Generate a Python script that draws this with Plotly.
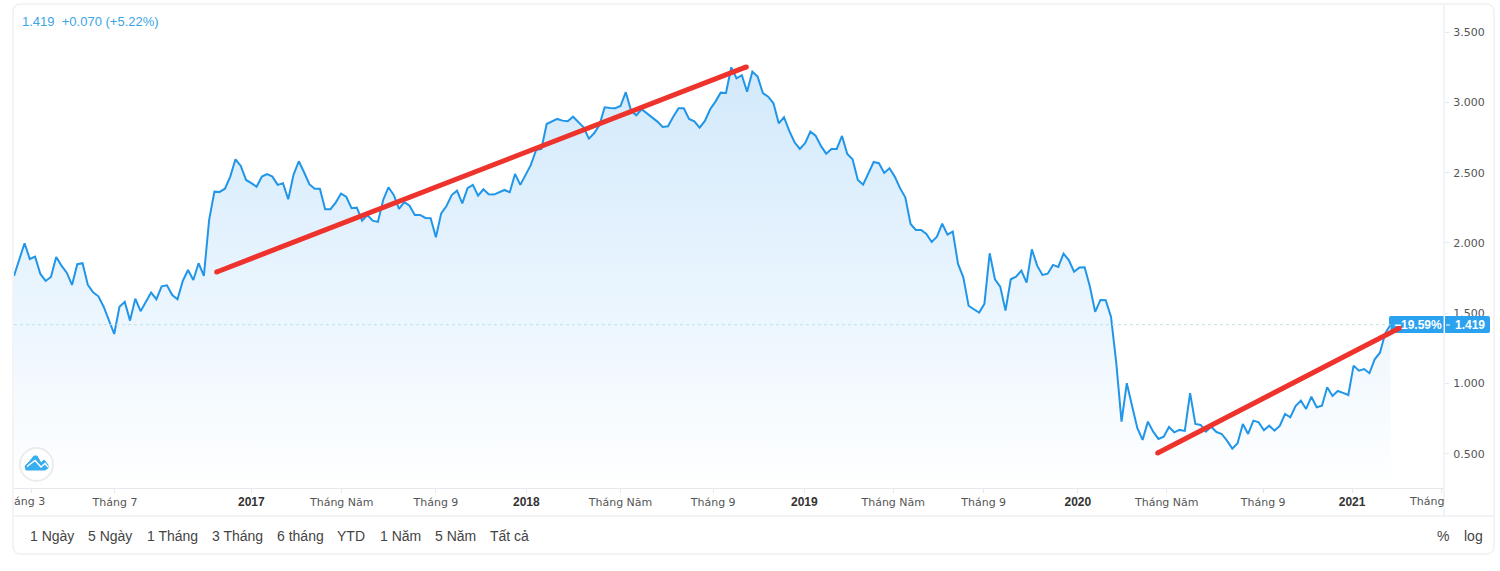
import pandas as pd
import plotly.graph_objects as go

W, H = 1500, 571
L, R, T, B = 14, 1444, 5, 488

# Weekly closing prices
first_week = "2016-02-21"
closes = [
    1.766, 1.879, 1.998, 1.886, 1.903, 1.780, 1.730, 1.758, 1.901, 1.839, 1.789, 1.702,
    1.849, 1.856, 1.702, 1.650, 1.621, 1.547, 1.453, 1.353, 1.547, 1.581, 1.448, 1.604,
    1.515, 1.583, 1.647, 1.600, 1.692, 1.699, 1.630, 1.600, 1.730, 1.808, 1.737, 1.856,
    1.766, 2.164, 2.365, 2.363, 2.386, 2.472, 2.595, 2.548, 2.448, 2.425, 2.400, 2.472,
    2.489, 2.472, 2.413, 2.425, 2.311, 2.484, 2.581, 2.503, 2.418, 2.386, 2.386, 2.240,
    2.240, 2.287, 2.351, 2.329, 2.247, 2.251, 2.159, 2.199, 2.159, 2.150, 2.306, 2.396,
    2.341, 2.242, 2.290, 2.265, 2.199, 2.199, 2.178, 2.176, 2.041, 2.211, 2.263, 2.341,
    2.372, 2.282, 2.389, 2.413, 2.337, 2.382, 2.346, 2.344, 2.363, 2.377, 2.361, 2.491,
    2.413, 2.484, 2.555, 2.661, 2.669, 2.846, 2.863, 2.882, 2.870, 2.865, 2.898, 2.858,
    2.823, 2.742, 2.780, 2.839, 2.965, 2.960, 2.958, 2.974, 3.072, 2.941, 2.908, 2.951,
    2.922, 2.898, 2.863, 2.825, 2.830, 2.898, 2.958, 2.958, 2.882, 2.865, 2.820, 2.868,
    2.951, 3.005, 3.069, 3.067, 3.249, 3.171, 3.193, 3.076, 3.218, 3.183, 3.065, 3.040,
    2.993, 2.851, 2.894, 2.797, 2.716, 2.669, 2.709, 2.792, 2.763, 2.690, 2.635, 2.669,
    2.669, 2.761, 2.633, 2.595, 2.448, 2.415, 2.496, 2.576, 2.567, 2.498, 2.531, 2.472,
    2.390, 2.325, 2.135, 2.093, 2.093, 2.064, 2.007, 2.045, 2.137, 2.059, 2.081, 1.851,
    1.756, 1.554, 1.529, 1.505, 1.567, 1.927, 1.742, 1.690, 1.519, 1.742, 1.761, 1.803,
    1.718, 1.955, 1.839, 1.773, 1.782, 1.844, 1.830, 1.924, 1.879, 1.796, 1.825, 1.827,
    1.690, 1.510, 1.595, 1.593, 1.476, 1.147, 0.730, 1.003, 0.841, 0.683, 0.600, 0.730,
    0.659, 0.607, 0.623, 0.692, 0.654, 0.671, 0.664, 0.932, 0.713, 0.706, 0.659, 0.694,
    0.656, 0.642, 0.595, 0.538, 0.576, 0.713, 0.642, 0.737, 0.725, 0.669, 0.701, 0.666,
    0.699, 0.784, 0.761, 0.841, 0.879, 0.820, 0.907, 0.832, 0.843, 0.974, 0.912, 0.948,
    0.934, 0.919, 1.128, 1.092, 1.104, 1.074, 1.173, 1.220, 1.358, 1.419,
]
last_price = 1.419

# Hand-drawn trend segments
trend_up_dates = ["2016-11-16", "2018-10-20"]
trend_up_values = [1.794, 3.252]
trend_rebound_dates = ["2020-04-18", "2021-03-05"]
trend_rebound_values = [0.507, 1.396]

YEAR = '<span style="font-family:Liberation Sans;font-size:12px;fill:#333333"><b>{}</b></span>'

# Axis ticks
month_tick_dates = [
    "2016-03-15", "2016-07-04", "2017-01-01", "2017-05-01", "2017-09-03", "2018-01-01",
    "2018-05-06", "2018-09-06", "2019-01-05", "2019-05-03", "2019-08-31", "2020-01-03",
    "2020-04-30", "2020-09-05", "2021-01-01", "2021-04-30",
]
month_tick_labels = [
    "", "Tháng 7", YEAR.format(2017), "Tháng Năm", "Tháng 9", YEAR.format(2018),
    "Tháng Năm", "Tháng 9", YEAR.format(2019), "Tháng Năm", "Tháng 9", YEAR.format(2020),
    "Tháng Năm", "Tháng 9", YEAR.format(2021), "",
]
price_ticks = [0.5, 1.0, 1.5, 2.0, 2.5, 3.0, 3.5]
price_tick_labels = ["0.500", "1.000", "1.500", "2.000", "2.500", "3.000", "3.500"]

range_buttons = [
    ("1 Ngày", 28), ("5 Ngày", 86), ("1 Tháng", 145), ("3 Tháng", 210), ("6 tháng", 275),
    ("YTD", 335), ("1 Năm", 378), ("5 Năm", 433), ("Tất cả", 488),
]

BLUE = "#2196e8"
LABEL_BLUE = "#2ba2f0"
RED = "#ee332c"
GRID = "#e6e8ee"
TICK_FONT = "DejaVu Sans"
UI_FONT = "Liberation Sans"

dates = pd.date_range(first_week, periods=len(closes), freq="7D")


def px(x):
    return (x - L) / (R - L)


def py(y):
    return (B - y) / (B - T)


def pixel_rect(x0, y0, x1, y1, radius):
    """Rounded rectangle as an SVG path in paper coordinates."""
    r_x, r_y = radius / (R - L), radius / (B - T)
    a, b, c, d = px(x0), px(x1), py(y0), py(y1)
    return (
        f"M {a + r_x} {c} L {b - r_x} {c} Q {b} {c} {b} {c - r_y} "
        f"L {b} {d + r_y} Q {b} {d} {b - r_x} {d} "
        f"L {a + r_x} {d} Q {a} {d} {a} {d + r_y} "
        f"L {a} {c - r_y} Q {a} {c} {a + r_x} {c} Z"
    )


def pixel_path(points, close=False):
    """Polyline through pixel points as an SVG path in paper coordinates."""
    head, *rest = points
    path = f"M {px(head[0])} {py(head[1])} "
    path += " ".join(f"L {px(x)} {py(y)}" for x, y in rest)
    return path + (" Z" if close else "")


def paper_line(x0, y0, x1, y1, color=GRID, width=1, dash="solid", layer="above"):
    return dict(
        type="line", xref="paper", yref="paper", x0=px(x0), x1=px(x1), y0=py(y0), y1=py(y1),
        line=dict(color=color, width=width, dash=dash), layer=layer,
    )


def text_at(text, x, y, size, color, font=UI_FONT, anchor="left"):
    return dict(
        text=text, xref="paper", yref="paper", x=px(x), y=py(y), xanchor=anchor, yanchor="middle",
        showarrow=False, font=dict(family=font, size=size, color=color),
    )


fig = go.Figure()

fig.add_trace(go.Scatter(
    x=dates, y=closes, mode="lines", line=dict(color=BLUE, width=2), fill="tozeroy",
    fillgradient=dict(
        type="vertical",
        colorscale=[[0, "#ffffff"], [0.45, "#eaf5fe"], [1, "#d2e9fb"]],
        start=0.25, stop=3.25,
    ),
    hoverinfo="skip", showlegend=False,
))
for seg_x, seg_y in ((trend_up_dates, trend_up_values), (trend_rebound_dates, trend_rebound_values)):
    fig.add_trace(go.Scatter(
        x=seg_x, y=seg_y, mode="lines+markers", line=dict(color=RED, width=5),
        marker=dict(color=RED, size=5), cliponaxis=False, hoverinfo="skip", showlegend=False,
    ))

cloud = [(26, 470), (45, 470), (48, 468), (48, 465), (44, 460), (41, 463), (37, 456), (34, 456),
         (29, 462), (25, 466)]
ridge = [(27, 466.5), (35, 460.5), (41, 467), (45, 463.5), (48, 467)]

shapes = [
    dict(type="path", xref="paper", yref="paper", path=pixel_rect(13, 4, 1494, 554, 8),
         line=dict(color="#e9e9e9", width=1), layer="above"),
    paper_line(14, 516, 1493, 516),
    paper_line(1444, 5, 1444, 516),
    dict(type="line", xref="x", yref="y", x0=dates[0], x1=dates[-1], y0=last_price, y1=last_price,
         line=dict(color="#bfe2e4", width=1, dash="dot"), layer="above"),
    # Last-price tag: the left half sits behind the trend line, the right half over the axis labels
    dict(type="path", xref="paper", yref="paper", path=pixel_rect(1389, 316, 1446, 333, 2),
         fillcolor=LABEL_BLUE, line=dict(color=LABEL_BLUE, width=0), layer="below"),
    dict(type="path", xref="paper", yref="paper", path=pixel_rect(1444, 316, 1490, 333, 2),
         fillcolor=LABEL_BLUE, line=dict(color=LABEL_BLUE, width=0), layer="above"),
    paper_line(1444.5, 316, 1444.5, 333, color="#ffffff"),
    paper_line(1446, 325, 1450, 325, color="#ffffff"),
    # Badge in the lower-left corner
    dict(type="circle", xref="paper", yref="paper", x0=px(20), x1=px(53), y0=py(448), y1=py(481),
         line=dict(color="#ececec", width=2), fillcolor="#ffffff", layer="above"),
    dict(type="path", xref="paper", yref="paper", path=pixel_path(cloud, close=True),
         fillcolor="#38aef0", line=dict(color="#38aef0", width=1), layer="above"),
    dict(type="path", xref="paper", yref="paper", path=pixel_path(ridge),
         line=dict(color="#ffffff", width=1.4), layer="above"),
]

annotations = [
    text_at("1.419&nbsp;&nbsp;+0.070 (+5.22%)", 19.5, 21.5, 13, "#3ba4e6"),
    text_at("<b>−19.59%</b>", 1392, 325, 12, "#ffffff"),
    text_at("<b>1.419</b>", 1453, 325, 12, "#ffffff"),
    # Labels cut off by the plot edges
    text_at("áng 3", 12, 502, 11, "#555555", TICK_FONT),
    text_at("Tháng", 1446, 502, 11, "#555555", TICK_FONT, anchor="right"),
    text_at("%", 1435, 536, 14, "#444444"),
    text_at("log", 1462, 536, 14, "#444444"),
]
annotations += [text_at(label, x, 536, 14, "#444444") for label, x in range_buttons]

fig.update_layout(
    width=W, height=H, autosize=False,
    margin=dict(l=L, r=W - R, t=T, b=H - B),
    paper_bgcolor="#ffffff", plot_bgcolor="#ffffff",
    shapes=shapes, annotations=annotations, hovermode=False,
    font=dict(family=TICK_FONT),
)
fig.update_xaxes(
    range=["2016-02-21", "2021-05-03"], type="date",
    tickmode="array", tickvals=month_tick_dates, ticktext=month_tick_labels, tickangle=0,
    showgrid=False, zeroline=False, showline=True, linecolor=GRID, linewidth=1,
    ticks="outside", ticklen=4, tickcolor=GRID,
    tickfont=dict(family=TICK_FONT, size=11, color="#555555"),
)
fig.update_yaxes(
    range=[0.258, 3.692], side="right", tickmode="array", tickvals=price_ticks,
    ticktext=price_tick_labels, showgrid=False, zeroline=False, showline=False,
    ticks="outside", ticklen=4, tickcolor=GRID, ticklabelstandoff=2,
    tickfont=dict(family=TICK_FONT, size=11, color="#555555"),
)

fig.write_html("out.html")
